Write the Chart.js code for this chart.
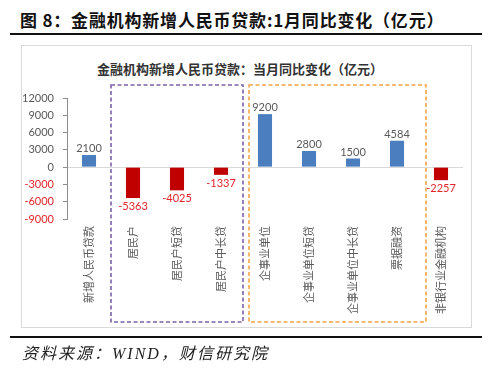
<!DOCTYPE html>
<html>
<head>
<meta charset="utf-8">
<script src="https://cdn.jsdelivr.net/npm/chart.js@4"></script>
<style>
  html, body { margin: 0; padding: 0; background: #fff; }
  #wrap { position: relative; width: 500px; height: 371px; overflow: hidden; }
  #title { position: absolute; left: 20px; top: 7px; font: bold 17px "Noto Sans CJK SC", sans-serif; color: #111; white-space: nowrap; letter-spacing: 0.8px; }
  .rule { position: absolute; left: 10px; width: 472px; height: 2px; background: #111; }
  #box { position: absolute; left: 21px; top: 45px; width: 449px; height: 281px; border: 1px solid #d9d9d9; }
  #sub { position: absolute; left: 0; width: 480px; top: 59px; text-align: center; font: bold 13px "Noto Sans CJK SC", sans-serif; color: #333; white-space: nowrap; }
  #src { position: absolute; left: 22px; top: 340px; font: italic 16px "Liberation Serif", "Noto Sans CJK SC", serif; color: #222; white-space: nowrap; letter-spacing: 2px; }
  canvas { position: absolute; left: 0; top: 0; }
</style>
</head>
<body>
<div id="wrap">
  <div id="title">图 8：金融机构新增人民币贷款:1月同比变化（亿元）</div>
  <div class="rule" style="top:33px"></div>
  <div id="box"></div>
  <div id="sub">金融机构新增人民币贷款：当月同比变化（亿元）</div>
  <canvas id="c" width="500" height="371"></canvas>
  <div class="rule" style="top:336px"></div>
  <div id="src">资料来源：WIND，财信研究院</div>
</div>
<script>
const categories = ['新增人民币贷款', '居民户', '居民户短贷', '居民户中长贷', '企事业单位', '企事业单位短贷', '企事业单位中长贷', '票据融资', '非银行业金融机构'];
const values = [2100, -5363, -4025, -1337, 9200, 2800, 1500, 4584, -2257];
const yTicks = [12000, 9000, 6000, 3000, 0, -3000, -6000, -9000];

const BLUE = '#4a7ebf', RED = '#c00000', GRAY = '#595959', LRED = '#e2262b';
const numFont = '"Lato", "Liberation Sans", sans-serif';

const labelPlugin = {
  id: 'vlabels',
  afterDatasetsDraw(chart) {
    const ctx = chart.ctx;
    const meta = chart.getDatasetMeta(0);
    ctx.save();
    ctx.font = '11px ' + numFont;
    ctx.textAlign = 'center';
    meta.data.forEach((bar, i) => {
      const v = values[i];
      if (v >= 0) {
        ctx.fillStyle = GRAY;
        ctx.textBaseline = 'bottom';
        ctx.fillText(String(v), bar.x, bar.y - 1);
      } else {
        ctx.fillStyle = LRED;
        ctx.textBaseline = 'top';
        ctx.fillText(String(v), bar.x, bar.y + 3);
      }
    });
    ctx.restore();
  }
};

const boxPlugin = {
  id: 'groupBoxes',
  afterDraw(chart) {
    const ctx = chart.ctx;
    const x = chart.scales.x;
    const half = (x.getPixelForValue(1) - x.getPixelForValue(0)) / 2;
    const top = chart.chartArea.top - 13;
    const bottom = 322;
    const groups = [
      { from: 1, to: 3, color: '#7a62a8', dl: 0, dr: 0 },
      { from: 4, to: 7, color: '#f5a44a', dl: 6, dr: 7 }
    ];
    ctx.save();
    ctx.lineWidth = 1.6;
    ctx.setLineDash([4, 2.5]);
    groups.forEach(g => {
      const l = x.getPixelForValue(g.from) - half + g.dl;
      const r = x.getPixelForValue(g.to) + half + g.dr;
      ctx.strokeStyle = g.color;
      ctx.strokeRect(l, top, r - l, bottom - top);
    });
    ctx.restore();
  }
};

new Chart(document.getElementById('c'), {
  type: 'bar',
  data: {
    labels: categories,
    datasets: [{
      data: values,
      backgroundColor: values.map(v => v >= 0 ? BLUE : RED),
      barPercentage: 0.32,
      categoryPercentage: 1.0
    }]
  },
  options: {
    responsive: false,
    animation: false,
    devicePixelRatio: 1,
    layout: { padding: { left: 22, right: 37, top: 98, bottom: 0 } },
    plugins: { legend: { display: false }, tooltip: { enabled: false } },
    scales: {
      x: {
        grid: { display: false, drawTicks: false },
        border: { display: false },
        afterFit(s) { s.height = 152; },
        ticks: {
          autoSkip: false,
          minRotation: 90,
          maxRotation: 90,
          padding: 7,
          color: GRAY,
          font: { family: '"Noto Sans CJK SC", sans-serif', size: 11 }
        }
      },
      y: {
        min: -9000,
        max: 12000,
        afterBuildTicks(s) { s.ticks = yTicks.map(v => ({ value: v })); },
        afterFit(s) { s.width = 45; },
        border: { display: true, color: '#8c8c8c', width: 1 },
        grid: {
          drawTicks: true,
          tickLength: 4,
          color: c => c.tick && c.tick.value === 0 ? '#d9d9d9' : 'rgba(0,0,0,0)',
          tickColor: '#8c8c8c'
        },
        ticks: {
          padding: 9,
          callback: v => String(v),
          color: c => c.tick && c.tick.value < 0 ? LRED : GRAY,
          font: { family: numFont, size: 11 }
        }
      }
    }
  },
  plugins: [labelPlugin, boxPlugin]
});
</script>
</body>
</html>
